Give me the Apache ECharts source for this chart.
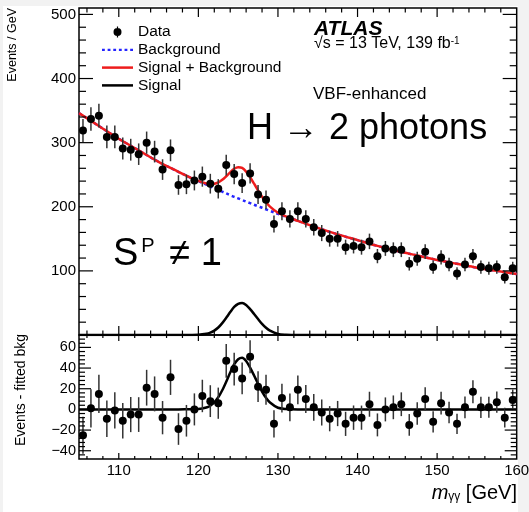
<!DOCTYPE html>
<html><head><meta charset="utf-8">
<script src="https://cdn.jsdelivr.net/npm/echarts@6/dist/echarts.min.js"></script>
<style>
html,body{margin:0;padding:0;background:#f2f2f2;width:529px;height:512px;overflow:hidden}
#bg{position:absolute;left:3px;top:6px;width:515px;height:506px;background:#fff;z-index:0}
#chart{position:absolute;left:0;top:0;width:529px;height:512px;z-index:1}
</style></head><body><div id="bg"></div><div id="chart"></div>
<script>
// ---- data ----
const binCenters = [105.5,106.5,107.5,108.5,109.5,110.5,111.5,112.5,113.5,114.5,115.5,116.5,117.5,118.5,119.5,120.5,121.5,122.5,123.5,124.5,125.5,126.5,127.5,128.5,129.5,130.5,131.5,132.5,133.5,134.5,135.5,136.5,137.5,138.5,139.5,140.5,141.5,142.5,143.5,144.5,145.5,146.5,147.5,148.5,149.5,150.5,151.5,152.5,153.5,154.5,155.5,156.5,157.5,158.5,159.5];
const events = [319,337,342,309,309, 291,289,282,300,286, 258,288,234,235,241, 247,236,228,265,251, 237,252,219,211,173, 193,181,193,181,168, 159,150,150,137,139, 137,146,123,135,133, 133,111,119,130,106, 121,110,96,110,123, 106,104,106,90,104];
const errors = [17.9,18.4,18.5,17.6,17.6, 17.1,17.0,16.8,17.3,16.9, 16.1,17.0,15.3,15.3,15.5, 15.7,15.4,15.1,16.3,15.8, 15.4,15.9,14.8,14.5,13.2, 13.9,13.5,13.9,13.5,13.0, 12.6,12.2,12.2,11.7,11.8, 11.7,12.1,11.1,11.6,11.5, 11.5,10.5,10.9,11.4,10.3, 11.0,10.5,9.8,10.5,11.1, 10.3,10.2,10.3,9.5,10.2];
const residuals = [-25,1,15,-9,-1, -11,-5,-5,21,15, -8,31,-19,-11,0, 13,8,6,47,39, 30,51,22,19,-14, 11,2,19,10,2, -3,-9,-4,-14,-8, -8,5,-15,0,2, 5,-15,-4,10,-12, 6,-3,-14,2,17, 2,2,7,-8,9];
const curveX = [105,107.5,110,112.5,115,117.5,119,120,121,121.5,122,122.5,123,123.5,124,124.5,125,125.5,126,126.5,127,127.5,128,128.5,129,130,131,132.5,135,137.5,140,142.5,145,147.5,150,152.5,155,157.5,160];
const bkgCurve = [346,326,306,288,270,254.5,245.5,240,234.5,231.8,229,226.3,223.5,220.8,218,215.5,213,210.5,208,205.6,203.2,200.8,198.4,196,193.6,189,184.5,178,167,157,148,139,131,124,117,111,105,100,95];
const sigCurve = [0,0,0,0,0,0,0.1,0.3,1.8,3.6,6.8,11.7,18.5,26.8,35.7,43.7,48.6,50,46.9,40.4,32.8,24.9,17.3,11.3,6.7,1.6,0.4,0,0,0,0,0,0,0,0,0,0,0,0];
const xTickLabels = [110,120,130,140,150,160];
const yTopLabels = [100,200,300,400,500];
const yBotLabels = [-40,-20,0,20,40,60];

// ---- chart ----
const FONT = '"Liberation Sans", Arial, Helvetica, sans-serif';
const X0 = 105, X1 = 160, TOP_MIN = 0, TOP_MAX = 510, BOT_MIN = -48, BOT_MAX = 72;
function range(a, b, s) { const r = []; for (let v = a; v <= b + 1e-9; v += s) r.push(+v.toFixed(6)); return r; }
function minorOf(a, b, s, major) { return range(a, b, s).filter(v => !major.some(m => Math.abs(m - v) < 1e-6)); }
const xMajor = range(110, 150, 10), xMinor = minorOf(106, 158, 2, xMajor);
const yTopMajor = range(100, 500, 100), yTopMinor = minorOf(20, 500, 20, yTopMajor);
const yBotMajor = range(-40, 60, 20), yBotMinor = minorOf(-44, 68, 4, yBotMajor);
const minus = v => String(v).replace('-', '\u2212');

function mkX(grid, labels) {
  return { type: 'value', gridIndex: grid, position: 'bottom', min: X0, max: X1,
    axisLine: { show: false, onZero: false }, splitLine: { show: false }, axisTick: { show: false },
    axisLabel: labels ? { show: true, customValues: labels, margin: 4, fontSize: 15, color: '#000', fontFamily: FONT } : { show: false } };
}
function mkY(grid, min, max, labels, fs) {
  return { type: 'value', gridIndex: grid, position: 'left', min: min, max: max,
    axisLine: { show: false, onZero: false }, splitLine: { show: false }, axisTick: { show: false },
    axisLabel: { show: true, customValues: labels, margin: 3, fontSize: fs, color: '#000', fontFamily: FONT, formatter: minus } };
}

const zip = (a, b) => a.map((v, i) => [v, b[i]]);
const dataPts = binCenters.map((x, i) => [x, events[i], errors[i]]);
const residPts = binCenters.map((x, i) => [x, residuals[i], errors[i]]);
const sbCurve = bkgCurve.map((v, i) => v + sigCurve[i]);

function errItem(params, api) {
  const x = api.value(0), y = api.value(1), e = api.value(2);
  const a = api.coord([x, y - e]), b = api.coord([x, y + e]);
  return { type: 'line', shape: { x1: a[0], y1: a[1], x2: b[0], y2: b[1] }, style: { stroke: '#333', lineWidth: 1.5 } };
}

const BOX = 'M0 0 M31 14 ';
const DATA_ICON = 'path://' + BOX + 'M11.5 7 A4 4 0 1 1 19.5 7 A4 4 0 1 1 11.5 7 Z M14.9 1.5 L16.1 1.5 L16.1 12.5 L14.9 12.5 Z';
const LINE_ICON = 'path://' + BOX + 'M0 5.75 L31 5.75 L31 8.25 L0 8.25 Z';
let dots = '';
for (let x = 0; x < 31; x += 6) dots += 'M' + x + ' 5.75 L' + (x + 3) + ' 5.75 L' + (x + 3) + ' 8.25 L' + x + ' 8.25 Z ';
const DOT_ICON = 'path://' + BOX + dots;

const texts = [
  { type: 'text', x: 314, y: 29.5, style: { text: 'ATLAS', font: 'italic bold 21px ' + FONT, fill: '#000', align: 'left', verticalAlign: 'middle' } },
  { type: 'text', x: 314, y: 44, style: { text: '\u221As = 13 TeV, 139 fb{s|-1}', fontSize: 16, fontFamily: FONT, fill: '#000', align: 'left', verticalAlign: 'middle',
      rich: { s: { fontSize: 10, fontFamily: FONT, verticalAlign: 'top', fill: '#000' } } } },
  { type: 'text', x: 313, y: 94, style: { text: 'VBF-enhanced', font: '17px ' + FONT, fill: '#000', align: 'left', verticalAlign: 'middle' } },
  { type: 'text', x: 247, y: 129, style: { text: 'H \u2192 2 photons', font: '36px ' + FONT, fill: '#000', align: 'left', verticalAlign: 'middle' } },
  { type: 'text', x: 113, y: 255, style: { text: 'S{p|P} \u2260 1', fontSize: 38, fontFamily: FONT, fill: '#000', align: 'left', verticalAlign: 'middle',
      rich: { p: { fontSize: 20, fontFamily: FONT, verticalAlign: 'top', padding: [0, 4, 0, 3], fill: '#000' } } } },
  { type: 'text', x: 12.5, y: 8, rotation: Math.PI / 2, style: { text: 'Events / GeV', font: '12.5px ' + FONT, fill: '#000', align: 'right', verticalAlign: 'middle' } },
  { type: 'text', x: 21, y: 334, rotation: Math.PI / 2, style: { text: 'Events - fitted bkg', font: '14px ' + FONT, fill: '#000', align: 'right', verticalAlign: 'middle' } },
  { type: 'text', x: 517, y: 493, style: { text: '{m|m}{g|\u03B3\u03B3} [GeV]', fontSize: 20, fontFamily: FONT, fill: '#000', align: 'right', verticalAlign: 'middle',
      rich: { m: { fontSize: 20, fontStyle: 'italic', fontFamily: FONT, fill: '#000' }, g: { fontSize: 12, fontFamily: FONT, verticalAlign: 'bottom', fill: '#000' } } } }
];

const option = {
  animation: false,
  backgroundColor: 'transparent',
  grid: [
    { left: 79, top: 8, width: 437.7, height: 327, show: true, borderColor: '#000', borderWidth: 1.5, backgroundColor: 'transparent', containLabel: false, outerBoundsMode: 'none' },
    { left: 79, top: 335, width: 437.7, height: 124, show: true, borderColor: '#000', borderWidth: 1.5, backgroundColor: 'transparent', containLabel: false, outerBoundsMode: 'none' }
  ],
  xAxis: [mkX(0, null), mkX(1, xTickLabels)],
  yAxis: [mkY(0, TOP_MIN, TOP_MAX, yTopLabels, 15), mkY(1, BOT_MIN, BOT_MAX, yBotLabels, 14.5)],
  legend: {
    orient: 'vertical', left: 102, top: 24, itemWidth: 31, itemHeight: 14, itemGap: 1.8, padding: 0,
    selectedMode: false,
    textStyle: { fontFamily: FONT, fontSize: 15.5, color: '#000' },
    data: [{ name: 'Data', icon: DATA_ICON }, { name: 'Background', icon: DOT_ICON },
           { name: 'Signal + Background', icon: LINE_ICON }, { name: 'Signal', icon: LINE_ICON }]
  },
  series: [
    { name: 'Background', type: 'line', xAxisIndex: 0, yAxisIndex: 0, data: zip(curveX, bkgCurve), smooth: 0.4, symbol: 'none',
      lineStyle: { color: '#2424ff', width: 2.5, type: [3, 3] }, itemStyle: { color: '#2424ff' }, z: 2 },
    { name: 'Signal + Background', type: 'line', xAxisIndex: 0, yAxisIndex: 0, data: zip(curveX, sbCurve), smooth: 0.3, symbol: 'none',
      lineStyle: { color: '#ee1c1c', width: 2.5 }, itemStyle: { color: '#ee1c1c' }, z: 3 },
    { name: 'Signal', type: 'line', xAxisIndex: 0, yAxisIndex: 0, data: zip(curveX, sigCurve), smooth: 0.3, symbol: 'none',
      lineStyle: { color: '#000', width: 2.5 }, itemStyle: { color: '#000' }, z: 3 },
    { type: 'custom', xAxisIndex: 0, yAxisIndex: 0, data: dataPts, renderItem: errItem, encode: { x: 0, y: 1 }, z: 4 },
    { name: 'Data', type: 'scatter', xAxisIndex: 0, yAxisIndex: 0, data: dataPts.map(p => [p[0], p[1]]), symbolSize: 8,
      itemStyle: { color: '#000', opacity: 1 }, z: 5 },
    { name: 'Signal', type: 'line', xAxisIndex: 1, yAxisIndex: 1, data: zip(curveX, sigCurve), smooth: 0.3, symbol: 'none',
      lineStyle: { color: '#000', width: 2.5 }, itemStyle: { color: '#000' }, z: 3 },
    { type: 'custom', xAxisIndex: 1, yAxisIndex: 1, data: residPts, renderItem: errItem, encode: { x: 0, y: 1 }, z: 4 },
    { name: 'Data', type: 'scatter', xAxisIndex: 1, yAxisIndex: 1, data: residPts.map(p => [p[0], p[1]]), symbolSize: 8,
      itemStyle: { color: '#000', opacity: 1 }, z: 5 }
  ],
  graphic: texts
};
const chart = echarts.init(document.getElementById('chart'), null, { renderer: 'canvas' });
chart.setOption(option);

// ROOT-style ticks on all four sides, positioned with the chart's own axis scales
const ticks = [];
function tick(gi, val, dx, dy) {
  const p = chart.convertToPixel({ gridIndex: gi }, val);
  if (!p || isNaN(p[0]) || isNaN(p[1])) return;
  ticks.push({ type: 'line', z: 50, silent: true,
    shape: { x1: p[0], y1: p[1], x2: p[0] + dx, y2: p[1] + dy },
    style: { stroke: '#000', lineWidth: 1.2 } });
}
function panelTicks(gi, ymin, ymax, yMaj, yMin, xBig, xSmall, yBig, ySmall) {
  xMajor.forEach(v => { tick(gi, [v, ymin], 0, -xBig); tick(gi, [v, ymax], 0, xBig); });
  xMinor.forEach(v => { tick(gi, [v, ymin], 0, -xSmall); tick(gi, [v, ymax], 0, xSmall); });
  yMaj.forEach(v => { tick(gi, [X0, v], yBig, 0); tick(gi, [X1, v], -yBig, 0); });
  yMin.forEach(v => { tick(gi, [X0, v], ySmall, 0); tick(gi, [X1, v], -ySmall, 0); });
}
panelTicks(0, TOP_MIN, TOP_MAX, yTopMajor, yTopMinor, 9, 4.5, 14, 7);
panelTicks(1, BOT_MIN, BOT_MAX, yBotMajor, yBotMinor, 6, 3, 12, 6);
chart.setOption({ graphic: texts.concat(ticks) });
</script></body></html>
